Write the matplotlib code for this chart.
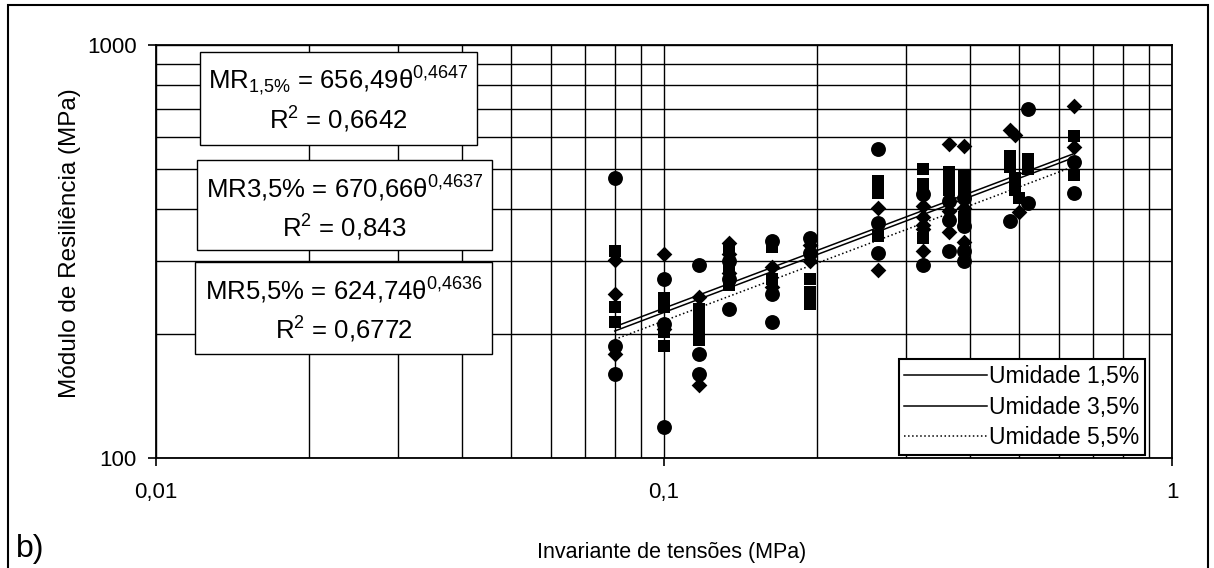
import matplotlib
matplotlib.use('Agg')
import matplotlib.pyplot as plt
import numpy as np
from matplotlib.patches import Rectangle
from matplotlib.lines import Line2D
from matplotlib.ticker import LogLocator, NullFormatter

plt.rcParams['font.family'] = ['Liberation Sans', 'DejaVu Sans']
plt.rcParams['mathtext.fontset'] = 'custom'
plt.rcParams['mathtext.rm'] = 'Liberation Sans'
plt.rcParams['mathtext.it'] = 'Liberation Sans:italic'
plt.rcParams['mathtext.bf'] = 'Liberation Sans:bold'

# ---- data ----
# Umidade 1,5% (diamonds)
x15 = [0.08, 0.08, 0.08, 0.10, 0.10, 0.117, 0.117, 0.134, 0.134, 0.134,
       0.163, 0.163, 0.194, 0.194, 0.264, 0.264, 0.324, 0.324, 0.324, 0.324,
       0.324, 0.364, 0.364, 0.364, 0.39, 0.39, 0.39, 0.48, 0.49, 0.50, 0.64, 0.64]
y15 = [302, 249, 179, 311, 205, 246, 150, 331, 311, 281,
       290, 260, 328, 300, 404, 285, 407, 384, 367, 358,
       317, 575, 397, 352, 570, 404, 334, 622, 607, 394, 711, 565]
# Umidade 3,5% (squares)
x35 = [0.08, 0.08, 0.08, 0.10, 0.10, 0.10, 0.10, 0.117, 0.117, 0.117, 0.117,
       0.134, 0.134, 0.134, 0.163, 0.163, 0.194, 0.194, 0.194,
       0.264, 0.264, 0.264, 0.324, 0.324, 0.324, 0.324,
       0.364, 0.364, 0.364, 0.39, 0.39, 0.39, 0.39,
       0.48, 0.52, 0.48, 0.52, 0.49, 0.49, 0.50, 0.64, 0.64]
y35 = [317, 232, 214, 244, 232, 202, 187, 230, 216, 202, 193,
       322, 290, 262, 325, 271, 271, 253, 236,
       469, 439, 345, 500, 461, 446, 340,
       492, 469, 446, 484, 461, 439, 384,
       540, 530, 506, 500, 476, 446, 425, 601, 484]
# Umidade 5,5% (circles)
x55 = [0.08, 0.08, 0.08, 0.10, 0.10, 0.10, 0.117, 0.117, 0.117,
       0.134, 0.134, 0.134, 0.163, 0.163, 0.163, 0.194, 0.194,
       0.264, 0.264, 0.264, 0.324, 0.324, 0.364, 0.364, 0.364,
       0.39, 0.39, 0.39, 0.39, 0.52, 0.52, 0.48, 0.64, 0.64]
y55 = [476, 187, 160, 271, 211, 119, 293, 179, 160,
       300, 271, 229, 336, 249, 214, 340, 314,
       559, 370, 314, 435, 293, 418, 377, 317,
       425, 365, 317, 300, 700, 414, 374, 520, 439]

# trend line parameters MR = a * theta^b
coef_a = [656.49, 670.66, 624.74]
coef_b = [0.4647, 0.4637, 0.4636]
r2 = ['0,6642', '0,843', '0,6772']
labels = ['Umidade 1,5%', 'Umidade 3,5%', 'Umidade 5,5%']

W, H = 1214, 568
fig = plt.figure(figsize=(W / 100, H / 100), dpi=100)
ax = fig.add_axes([156 / W, 1 - 458 / H, (1172 - 156) / W, (458 - 45) / H])
ax.set_xscale('log')
ax.set_yscale('log')
ax.set_xlim(0.01, 1)
ax.set_ylim(100, 1000)

ax.xaxis.set_minor_locator(LogLocator(base=10, subs=range(2, 10)))
ax.yaxis.set_minor_locator(LogLocator(base=10, subs=range(2, 10)))
ax.xaxis.set_minor_formatter(NullFormatter())
ax.yaxis.set_minor_formatter(NullFormatter())
ax.set_xticks([0.01, 0.1, 1])
ax.set_xticklabels(['0,01', '0,1', '1'])
ax.set_yticks([100, 1000])
ax.set_yticklabels(['100', '1000'])
ax.grid(True, which='both', color='black', lw=1.0)
ax.set_axisbelow(True)
ax.tick_params(which='minor', length=0)
ax.tick_params(axis='x', which='major', length=6, width=1.2, pad=11, labelsize=16)
ax.tick_params(axis='y', which='major', length=6, width=1.2, pad=8, labelsize=16)
for s in ax.spines.values():
    s.set_linewidth(1.3)

ax.scatter(x15, y15, marker='D', s=64, color='black', zorder=3, linewidths=0)
ax.scatter(x35, y35, marker='s', s=85, color='black', zorder=3, linewidths=0)
ax.scatter(x55, y55, marker='o', s=115, color='black', zorder=3, linewidths=0)

styles = ['-', '-', ':']
handles = []
for xs_, a, b, ls, lab in zip([x15, x35, x55], coef_a, coef_b, styles, labels):
    xx = np.geomspace(min(xs_), max(xs_), 60)
    ax.plot(xx, a * xx ** b, color='black', lw=1.1, ls=ls, zorder=4)
    handles.append(Line2D([], [], color='black', lw=1.1, ls=ls, label=lab))

leg = ax.legend(handles=handles, loc='lower right',
                bbox_to_anchor=(1145 / W, 1 - 455 / H), bbox_transform=fig.transFigure,
                fontsize=16.5, frameon=True, fancybox=False, handlelength=3.6,
                handletextpad=0.1, labelspacing=0.33, borderpad=0.25, borderaxespad=0)
leg.get_frame().set_edgecolor('black')
leg.get_frame().set_linewidth(1.5)
leg.get_frame().set_alpha(1)

ax.set_xlabel('Invariante de tensões (MPa)', fontsize=15.5)
ax.xaxis.set_label_coords((672 - 156) / 1016, (458 - 542) / 413)
ax.set_ylabel('Módulo de Resiliência (MPa)', fontsize=17.5)
ax.yaxis.set_label_coords((81 - 156) / 1016, (458 - 243) / 413)

# equation boxes
boxes = [(200, 52, 477, 145), (197, 160, 492, 250), (195, 262, 492, 354)]
eq1 = [r'MR$_{\mathregular{1{,}5\%}}$ = 656,49θ$^{\mathregular{0{,}4647}}$',
       r'MR3,5% = 670,66θ$^{\mathregular{0{,}4637}}$',
       r'MR5,5% = 624,74θ$^{\mathregular{0{,}4636}}$']
for (x0, y0, x1, y1), e, r in zip(boxes, eq1, r2):
    fig.add_artist(Rectangle((x0 / W, 1 - y1 / H), (x1 - x0) / W, (y1 - y0) / H,
                             transform=fig.transFigure, fc='white', ec='black', lw=1.0, zorder=5))
    cx = (x0 + x1) / 2
    fig.text(cx / W, 1 - (y0 + 29) / H, e, ha='center', va='center', fontsize=18.5, zorder=6)
    fig.text(cx / W, 1 - (y0 + 68) / H, r'R$^{\mathregular{2}}$ = ' + r, ha='center', va='center',
             fontsize=18.5, zorder=6)

fig.text(30 / W, 1 - 549 / H, 'b)', ha='center', va='center', fontsize=23)

# outer frame
fig.add_artist(Rectangle((8 / W, -0.02), (1208 - 8) / W, 1.02 - 5 / H,
                         transform=fig.transFigure, fill=False, ec='black', lw=1.5))

fig.savefig('out.png', dpi=100)
